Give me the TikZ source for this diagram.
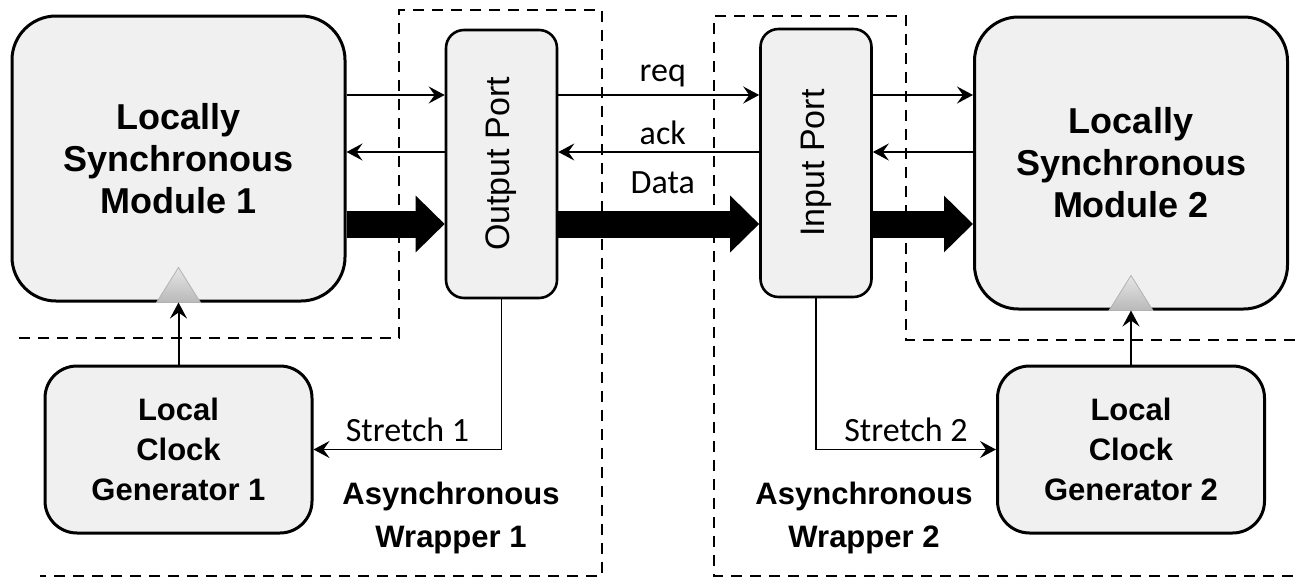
\documentclass[tikz,border=0pt]{standalone}
\usepackage{fontspec}
\setmainfont{Liberation Sans}
\newfontfamily\sigfont{Carlito}
\usepackage{tikz}
\usetikzlibrary{arrows.meta, positioning, calc}
\definecolor{boxgray}{HTML}{F0F0F0}

\begin{document}
\begin{tikzpicture}[
    x=0.5pt, y=-0.5pt,
    module/.style={rectangle, draw, line width=1.5pt, fill=boxgray, rounded corners=22pt, align=center, font=\fontsize{18}{21}\selectfont\bfseries},
    port/.style={rectangle, draw, line width=1.3pt, fill=boxgray, rounded corners=9pt, minimum width=55.5pt, minimum height=134pt},
    portlabel/.style={rotate=90, font=\fontsize{17}{20}\selectfont},
    clkgen/.style={rectangle, draw, line width=1.5pt, fill=boxgray, rounded corners=16pt, minimum width=133.5pt, minimum height=83.5pt, align=center, font=\fontsize{15.5}{20}\selectfont\bfseries},
    wrap/.style={dash pattern=on 5.5pt off 4pt, line width=1.2pt},
    sig/.style={-{Stealth[length=8pt, width=8.5pt, inset=3pt]}, line width=1pt},
    bus/.style={-{Triangle[length=14.5pt, width=27.5pt]}, line width=13.5pt},
    lbl/.style={font=\sigfont\fontsize{17}{20}\selectfont},
    wlabel/.style={align=center, font=\fontsize{15.5}{21.5}\selectfont\bfseries}
]
\useasboundingbox (0,0) rectangle (1295,578);

% rows of the handshake signals
\coordinate (reqrow) at (0,95);
\coordinate (ackrow) at (0,152);
\coordinate (datrow) at (0,224);

% Modules
\node[module, minimum width=166.5pt, minimum height=142.5pt] (lsm1) at (178.5,158.5) {Locally\\Synchronous\\Module 1};
\node[module, minimum width=156.5pt, minimum height=146pt] (lsm2) at (1131,163) {Locally\\Synchronous\\Module 2};

% Ports
\node[port] (outp) at (501.5,164) {};
\node[portlabel] (outtxt) at (outp.center) {Output Port};
\node[port] (inp) at (816,163) {};
\node[portlabel] (intxt) at (inp.center) {Input Port};

% Clock generators
\node[clkgen] (clk1) at (178.5,449.5) {Local\\Clock\\Generator 1};
\node[clkgen] (clk2) at (1131,449.5) {Local\\Clock\\Generator 2};

% clock inputs
\shade[top color=gray!20, bottom color=gray!55, draw=gray!60] ([xshift=-11pt]lsm1.south) -- ++(22,-35) -- ++(22,35) -- cycle;
\shade[top color=gray!20, bottom color=gray!55, draw=gray!60] ([xshift=-11pt]lsm2.south) -- ++(22,-35) -- ++(22,35) -- cycle;
\draw[sig] (clk1.north) -- (lsm1.south);
\draw[sig] (clk2.north) -- (lsm2.south);

% Module 1 to output port
\draw[sig] (lsm1.east |- reqrow) -- (outp.west |- reqrow);
\draw[sig] (outp.west |- ackrow) -- (lsm1.east |- ackrow);
\draw[bus] (lsm1.east |- datrow) -- (outp.west |- datrow);

% Output port to input port
\draw[sig] (outp.east |- reqrow) -- node[lbl, above, pos=0.52] (reqlbl) {req} (inp.west |- reqrow);
\draw[sig] (inp.west |- ackrow) -- node[lbl, above, pos=0.48] (acklbl) {ack} (outp.east |- ackrow);
\draw[bus] (outp.east |- datrow) -- node[lbl, above=5pt, pos=0.52] (datlbl) {Data} (inp.west |- datrow);

% Input port to module 2
\draw[sig] (inp.east |- reqrow) -- (lsm2.west |- reqrow);
\draw[sig] (lsm2.west |- ackrow) -- (inp.east |- ackrow);
\draw[bus] (inp.east |- datrow) -- (lsm2.west |- datrow);

% Stretch signals
\draw[sig, line width=0.8pt] (outp.south) |- node[lbl, above, pos=0.75] (st1) {Stretch 1} (clk1.east);
\draw[sig, line width=0.8pt] (inp.south) |- node[lbl, above, pos=0.75] (st2) {Stretch 2} (clk2.west);

% Wrappers
\draw[wrap] (19,338) -- (399,338) -- (399,10) -- (602,10) -- (602,576) -- (40,576);
\draw[wrap] (1295,340) -- (906,340) -- (906,16) -- (714,16) -- (714,576) -- (1295,576);
\node[wlabel] (w1lbl) at (451,518) {Asynchronous\\Wrapper 1};
\node[wlabel] (w2lbl) at (864,518) {Asynchronous\\Wrapper 2};

\end{tikzpicture}
\end{document}
